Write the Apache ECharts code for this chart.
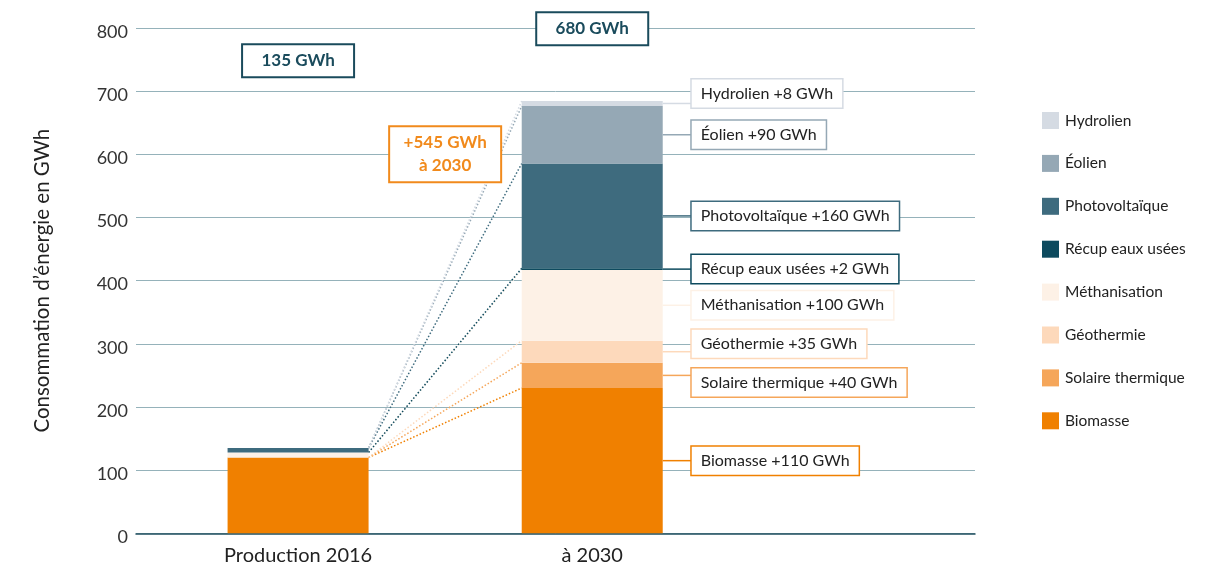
<!DOCTYPE html>
<html><head><meta charset="utf-8">
<script src="https://cdn.jsdelivr.net/npm/echarts@6/dist/echarts.min.js"></script>
<style>html,body{margin:0;padding:0;background:#fff}#c{width:1218px;height:567px}</style>
</head><body><div id="c"></div>
<script>
// ---------- data ----------
const categories = ['Production 2016', 'à 2030'];
const sources = ['Biomasse', 'Solaire thermique', 'Géothermie', 'Méthanisation', 'Récup eaux usées', 'Photovoltaïque', 'Éolien', 'Hydrolien'];
const values2016 = [120, 0, 0, 8, 0, 7, 0, 0];
const values2030 = [230, 40, 35, 112, 2.5, 166, 91, 8];
const increments = [110, 40, 35, 100, 2, 160, 90, 8];
const totals = [135, 680];
const growth = 545;
const yMin = 0, yMax = 800, yStep = 100;

// ---------- style / layout ----------
const colors = ['#f08000', '#f5a65a', '#fdd9bb', '#fdf1e6', '#0d4a5e', '#3e6b7e', '#95a8b5', '#d5dbe3'];
const labelShift = [0, 7, -8, 0, 0, 0, 0, -10];
const FONT = 'Lato, "Noto Sans", sans-serif';
const G_TOP = 28, G_BOTTOM = 567 - 533.3;
const BAR_GRID_LEFT = 151, BAR_GRID_RIGHT = 739.3;
const BAR_W = 141;
const BAND = (BAR_GRID_RIGHT - BAR_GRID_LEFT) / categories.length;
const HALF = BAR_W / 2 / BAND;
const BOX_H = 28, LINK_W = 29;
const annotY = [748, 799, 600];

function richLabel(i) {
  const c = colors[i];
  const text = sources[i] + ' +' + increments[i] + ' GWh';
  const s = labelShift[i];
  const H = BOX_H + 2 * Math.abs(s);
  const rich = {
    sp: { width: 0.01, height: H, lineHeight: H, fontSize: 1 },
    ln: { width: LINK_W, height: 1.5, lineHeight: 1.5, fontSize: 1, backgroundColor: c },
    box: {
      height: BOX_H, lineHeight: BOX_H, padding: [0, 9], fontSize: 16, fontFamily: FONT,
      color: '#222', backgroundColor: '#fff', borderColor: c, borderWidth: 1.5,
      verticalAlign: s < 0 ? 'top' : (s > 0 ? 'bottom' : 'middle')
    }
  };
  return {
    show: true, position: 'right', distance: 0,
    formatter: (s !== 0 ? '{sp| }' : '') + '{ln| }{box|' + text + '}',
    rich
  };
}

const barSeries = sources.map((name, i) => ({
  name, type: 'bar', stack: 'total', xAxisIndex: 1, yAxisIndex: 1,
  barWidth: BAR_W, z: 3,
  itemStyle: { color: colors[i] },
  emphasis: { disabled: true },
  data: [values2016[i], { value: values2030[i], label: richLabel(i) }]
}));

function cum(arr, i) { let s = 0; for (let k = 0; k <= i; k++) s += arr[k]; return s; }
const linkSeries = sources.map((name, i) => ({
  name: 'link-' + name, type: 'line', xAxisIndex: 2, yAxisIndex: 1, z: 2,
  symbol: 'none', silent: true,
  lineStyle: { color: colors[i], width: 1.5, type: [1.5, 2] },
  data: [[0 + HALF, cum(values2016, i)], [1 - HALF, cum(values2030, i)]]
}));

const teal = '#1a4b5c', orange = '#f18a1c';
function boxLabel(color, h) {
  return {
    color, borderColor: color, borderWidth: 2, backgroundColor: '#fff',
    width: 110, height: h, lineHeight: h === 31 ? 31 : 23, padding: h === 31 ? 0 : [4, 0, 4, 0]
  };
}
const annot = {
  name: 'annot', type: 'scatter', xAxisIndex: 2, yAxisIndex: 1, z: 10, silent: true,
  symbol: 'rect', symbolSize: 1, itemStyle: { color: 'rgba(255,255,255,0)', opacity: 1 },
  emphasis: { disabled: true },
  data: [
    { value: [0, annotY[0]], txt: totals[0] + ' GWh', label: boxLabel(teal, 31) },
    { value: [1, annotY[1]], txt: totals[1] + ' GWh', label: boxLabel(teal, 31) },
    { value: [0.5, annotY[2]], txt: '+' + growth + ' GWh\nà 2030', label: boxLabel(orange, 46) }
  ],
  label: {
    show: true, position: 'inside', align: 'center', verticalAlign: 'middle',
    fontFamily: FONT, fontWeight: 'bold', fontSize: 17,
    formatter: p => p.data.txt
  }
};

const legendOrder = sources.slice().reverse();

const option = {
  animation: false,
  backgroundColor: '#fff',
  textStyle: { fontFamily: FONT },
  legend: {
    orient: 'vertical', left: 1042, top: 112, padding: 0, itemWidth: 17, itemHeight: 17, itemGap: 25.9,
    icon: 'rect', data: legendOrder, selectedMode: false,
    textStyle: { fontFamily: FONT, fontSize: 15.5, color: '#222', padding: [0, 0, 0, 1] }
  },
  grid: [
    { left: 136, right: 1218 - 975, top: G_TOP, bottom: G_BOTTOM },
    { left: BAR_GRID_LEFT, right: 1218 - BAR_GRID_RIGHT, top: G_TOP, bottom: G_BOTTOM }
  ],
  xAxis: [
    { gridIndex: 0, type: 'value', min: 0, max: 1, axisLabel: { show: false }, axisTick: { show: false },
      splitLine: { show: false }, axisLine: { show: true, lineStyle: { color: '#1f4f5f', width: 1.5 } } },
    { gridIndex: 1, type: 'category', data: categories, axisLine: { show: false }, axisTick: { show: false },
      axisLabel: { fontFamily: FONT, fontSize: 20, color: '#222', margin: 12 } },
    { gridIndex: 1, type: 'value', min: -0.5, max: categories.length - 0.5, show: false }
  ],
  yAxis: [
    { gridIndex: 0, type: 'value', min: yMin, max: yMax, interval: yStep,
      name: 'Consommation d\u2019énergie en GWh', nameLocation: 'middle', nameGap: 83, nameRotate: 90,
      nameTextStyle: { fontFamily: FONT, fontSize: 20.5, color: '#222' },
      axisLine: { show: false }, axisTick: { show: false },
      axisLabel: { fontFamily: FONT, fontSize: 18, color: '#333', margin: 8, verticalAlign: 'top', lineHeight: 8 },
      splitLine: { show: true, lineStyle: { color: '#95b2ba', width: 1 } } },
    { gridIndex: 1, type: 'value', min: yMin, max: yMax, show: false, splitLine: { show: false } }
  ],
  series: [...linkSeries, ...barSeries, annot]
};

const chart = echarts.init(document.getElementById('c'), null, { renderer: 'canvas' });
chart.setOption(option);
</script></body></html>
